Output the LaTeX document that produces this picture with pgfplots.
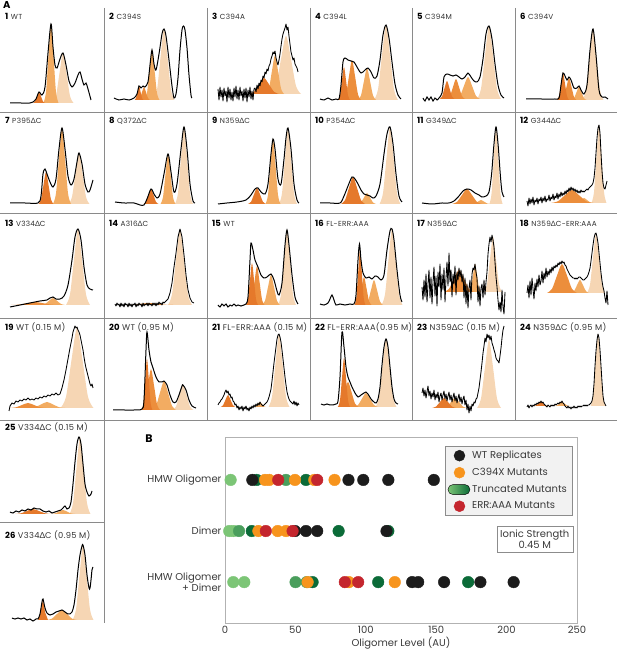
\documentclass[border=0pt]{standalone}
\usepackage{pgfplots}
\pgfplotsset{compat=1.18}
\usepackage{fontspec}
\setmainfont{Poppins}
\newfontfamily\labf[LetterSpace=4]{Poppins}
\newfontfamily\gk{Lato}
\newcommand{\DD}{{\gk Δ}}
\definecolor{ca}{HTML}{E5792B}
\definecolor{cb}{HTML}{EC8E3C}
\definecolor{cc}{HTML}{F2AC62}
\definecolor{cd}{HTML}{F6D6B4}
\definecolor{gridc}{HTML}{8A8A8A}
\definecolor{txt}{HTML}{3A3A3A}
\definecolor{lab}{HTML}{333333}
\definecolor{wtc}{HTML}{1C1C1C}
\definecolor{cxc}{HTML}{F7941D}
\definecolor{errc}{HTML}{C4262E}
\definecolor{gl}{HTML}{7CC576}
\definecolor{gm}{HTML}{4A9E5C}
\definecolor{gd}{HTML}{0B6B38}
\pgfplotsset{
 pan/.style n args={5}{scale only axis, width=103pt, height=#3pt, xmin=0, xmax=103, ymin=#4, ymax=#5, hide axis, clip=false, at={(#1pt,#2pt)}, anchor=south west},
}
\tikzset{pk/.style={draw=none, fill=#1, smooth},
 tr/.style={black, line width=1pt, smooth, tension=0.5},
 trn/.style={black, line width=0.85pt, line join=round}}
\newcommand{\lab}[4]{\node[anchor=base west, inner sep=0pt] at (#1pt,#2pt) {{\fontsize{8.5}{10}\selectfont\bfseries #3}\hspace{2.5pt}{\labf\fontsize{7.3}{8}\selectfont\color{lab}#4}};}
\newcommand{\labb}[4]{\node[anchor=base west, inner sep=0pt] at (#1pt,#2pt) {{\fontsize{8.5}{10}\selectfont\bfseries #3}\hspace{2.5pt}{\labf\fontsize{8.3}{9}\selectfont\color{lab}#4}};}
\newcommand{\bfont}{\fontsize{10}{11.5}\selectfont}
\begin{document}
\begin{tikzpicture}[x=1pt,y=1pt]
\useasboundingbox (0,0) rectangle (617,650);
% ---------- Row 1 ----------
\begin{axis}[pan={0}{538}{112}{-9}{103}]
\addplot[pk=cd] coordinates {(52.5,0)(56,7)(59.5,30)(63,50)(66.5,30)(70,7)(73.5,0)};
\addplot[pk=cc] coordinates {(43.5,0)(46,11)(48.5,47)(51,79)(53.5,47)(56,11)(58.5,0)};
\addplot[pk=ca] coordinates {(33,0)(35,1.5)(37,6.6)(39,11)(41,6.6)(43,1.5)(45,0)};
\addplot[tr] coordinates {(10,0)(20,0)(30,0)(33,1)(36,4)(39,11)(42,8)(45,16)(48,50)(51,79)(53,56)(55,38)(57,35)(60,44)(63,50)(66,38)(69,22)(72,16)(75,20)(78,28)(80,31)(82,24)(84,18)(86,20)(88,14)(91,3)};
\end{axis}
\begin{axis}[pan={104}{538}{112}{-12}{100}]
\addplot[pk=cd] coordinates {(49.5,0)(53,10)(56.5,42.6)(60,71)(63.5,42.6)(67,10)(70.5,0)};
\addplot[pk=cc] coordinates {(40.5,0)(43,7)(45.5,30)(48,50)(50.5,30)(53,7)(55.5,0)};
\addplot[pk=cb] coordinates {(34,0)(36,1.8)(38,7.8)(40,13)(42,7.8)(44,1.8)(46,0)};
\addplot[pk=ca] coordinates {(30.5,0)(32,2)(33.5,8.4)(35,14)(36.5,8.4)(38,2)(39.5,0)};
\addplot[tr] coordinates {(10,2)(15,0)(20,1)(25,0)(30,2)(33,6)(35,14)(37,12)(39,14)(41,13)(44,18)(46,35)(48,50)(50,36)(52,30)(55,46)(58,66)(60,71)(62,64)(65,40)(68,14)(70,2)(72,6)(74,22)(76,50)(78,70)(79.5,74)(81,70)(83,52)(85,25)(87,5)(88,2)};
\end{axis}
\begin{axis}[pan={207}{538}{112}{-18}{94}]
\addplot[pk=cd] coordinates {(64,0)(69,8)(74,35)(79,58)(84,35)(89,8)(94,0)};
\addplot[pk=cc] coordinates {(59,0)(62,5.5)(65,23.4)(68,39)(71,23.4)(74,5.5)(77,0)};
\addplot[pk=ca] coordinates {(42,0)(47,2.2)(52,9.6)(57,16)(62,9.6)(67,2.2)(72,0)};
\addplot[trn] coordinates {(11,5)(12,-6)(13,7)(14,-3)(15,4)(16,-7)(17,6)(18,-2)(19,3)(20,-8)(21,7)(22,-4)(23,5)(24,-6)(25,2)(26,-7)(27,6)(28,-3)(29,8)(30,-5)(31,4)(32,-6)(33,7)(34,-2)(35,3)(36,-7)(37,5)(38,-4)(39,6)(40,-8)(41,4)(42,-3)(43,7)(44,-5)(45,3)(46,-6)(47,5)(48,6)(49,2)(50,9)(51,5)(52,11)(53,8)(54,14)(55,12)(56,18)(57,16)(58,22)(59,20)(60,25)(61,23)(62,28)(63,30)(64,35)(65,38)(66,42)(67,40)(68,43)(69,36)(70,32)(71,29)(72,34)(73,40)(74,48)(75,55)(76,60)(77,63)(78,66)(79,70)(80,64)(81,67)(82,58)(83,50)(84,42)(85,38)(86,34)(87,36)(88,30)(89,28)(90,26)(91,22)};
\end{axis}
\begin{axis}[pan={310}{538}{112}{-12}{100}]
\addplot[pk=cd] coordinates {(64,0)(68,10.5)(72,45)(76,75)(80,45)(84,10.5)(88,0)};
\addplot[pk=cc] coordinates {(48,0)(51,4.5)(54,19.2)(57,32)(60,19.2)(63,4.5)(66,0)};
\addplot[pk=cb] coordinates {(33,0)(36,5.6)(39,24)(42,40)(45,24)(48,5.6)(51,0)};
\addplot[pk=ca] coordinates {(28,0)(30,4.6)(32,19.8)(34,33)(36,19.8)(38,4.6)(40,0)};
\addplot[tr] coordinates {(10,1)(14,0)(18,2)(22,0)(26,1)(29,1)(31,15)(33,38)(35,42)(38,40)(41,39)(44,38)(47,33)(51,27)(55,30)(58,32)(61,28)(64,22)(67,24)(70,40)(73,65)(76,75)(79,62)(82,38)(85,16)(88,5)(91,1)};
\end{axis}
\begin{axis}[pan={412}{538}{112}{-13}{99}]
\addplot[pk=cd] coordinates {(65,0)(69,10.2)(73,43.8)(77,73)(81,43.8)(85,10.2)(89,0)};
\addplot[pk=cc] coordinates {(44,0)(48,3)(52,13.2)(56,22)(60,13.2)(64,3)(68,0)};
\addplot[pk=cb] coordinates {(35,0)(38,2.8)(41,12)(44,20)(47,12)(50,2.8)(53,0)};
\addplot[pk=ca] coordinates {(27.5,0)(30,2.5)(32.5,10.8)(35,18)(37.5,10.8)(40,2.5)(42.5,0)};
\addplot[tr] coordinates {(11,1)(13,-2)(15,2)(17,-1)(19,2)(21,-2)(23,1)(25,-1)(27,1)(30,6)(32,22)(35,25)(38,24)(41,23)(44,24)(47,22)(50,20)(53,22)(56,26)(59,22)(62,18)(65,17)(68,22)(71,40)(74,65)(77,73)(80,60)(83,35)(86,14)(89,4)(92,1)};
\end{axis}
\begin{axis}[pan={515}{538}{112}{-12}{100}]
\addplot[pk=cd] coordinates {(67.5,0)(71,10)(74.5,42.6)(78,71)(81.5,42.6)(85,10)(88.5,0)};
\addplot[pk=cc] coordinates {(56.5,0)(59,1.8)(61.5,7.8)(64,13)(66.5,7.8)(69,1.8)(71.5,0)};
\addplot[pk=cb] coordinates {(46.5,0)(49,3)(51.5,13.2)(54,22)(56.5,13.2)(59,3)(61.5,0)};
\addplot[pk=ca] coordinates {(42,0)(44,3.8)(46,16.2)(48,27)(50,16.2)(52,3.8)(54,0)};
\addplot[tr] coordinates {(11,1)(25,1)(40,1)(44,2)(46,15)(48,27)(50,24)(52,20)(54,23)(56,20)(59,12)(62,12)(64,14)(66,10)(69,6)(72,15)(75,50)(78,71)(81,45)(84,10)(87,3)(90,3)(93,1)};
\end{axis}
% ---------- Row 2 ----------
\begin{axis}[pan={0}{437}{101}{-9}{92}]
\addplot[pk=cd] coordinates {(68.5,0)(72,7.1)(75.5,30.6)(79,51)(82.5,30.6)(86,7.1)(89.5,0)};
\addplot[pk=cc] coordinates {(53,0)(56,10.6)(59,45.6)(62,76)(65,45.6)(68,10.6)(71,0)};
\addplot[pk=ca] coordinates {(38.5,0)(41,4.5)(43.5,19.2)(46,32)(48.5,19.2)(51,4.5)(53.5,0)};
\addplot[tr] coordinates {(10,1)(25,1)(38,1)(41,8)(43,30)(45,35)(47,30)(50,22)(53,17)(56,25)(59,55)(62,76)(65,55)(68,28)(71,19)(74,25)(77,42)(79,51)(82,40)(85,20)(88,12)(90,14)(93,24)};
\end{axis}
\begin{axis}[pan={104}{437}{101}{-9}{92}]
\addplot[pk=cd] coordinates {(71,0)(74,10.8)(77,46.2)(80,77)(83,46.2)(86,10.8)(89,0)};
\addplot[pk=cc] coordinates {(56.5,0)(59,7)(61.5,30)(64,50)(66.5,30)(69,7)(71.5,0)};
\addplot[pk=ca] coordinates {(39.5,0)(42,2.1)(44.5,9)(47,15)(49.5,9)(52,2.1)(54.5,0)};
\addplot[tr] coordinates {(11,2)(20,1)(30,1)(36,-1)(40,-1)(43,5)(47,15)(50,10)(53,6)(56,10)(60,30)(64,50)(67,32)(70,12)(73,20)(77,55)(80,77)(83,55)(86,20)(89,3)(91,1)};
\end{axis}
\begin{axis}[pan={207}{437}{101}{-9}{92}]
\addplot[pk=cd] coordinates {(72,0)(75,10.6)(78,45.6)(81,76)(84,45.6)(87,10.6)(90,0)};
\addplot[pk=cc] coordinates {(58.5,0)(61,9.1)(63.5,39)(66,65)(68.5,39)(71,9.1)(73.5,0)};
\addplot[pk=ca] coordinates {(41,0)(44,2.2)(47,9.6)(50,16)(53,9.6)(56,2.2)(59,0)};
\addplot[tr] coordinates {(11,0)(20,1)(30,2)(39,4)(44,9)(48,15)(51,16)(54,12)(58,10)(61,20)(64,50)(66,65)(68,55)(71,25)(74,20)(77,45)(79,66)(81,76)(84,55)(87,20)(90,4)(92,1)};
\end{axis}
\begin{axis}[pan={310}{437}{101}{-9}{92}]
\addplot[pk=cd] coordinates {(69.5,0)(73,10.8)(76.5,46.2)(80,77)(83.5,46.2)(87,10.8)(90.5,0)};
\addplot[pk=cc] coordinates {(48,0)(51,1.5)(54,6.6)(57,11)(60,6.6)(63,1.5)(66,0)};
\addplot[pk=ca] coordinates {(31,0)(35,3.8)(39,16.2)(43,27)(47,16.2)(51,3.8)(55,0)};
\addplot[tr] coordinates {(10,1)(20,1)(30,1)(34,8)(38,18)(42,27)(45,25)(48,20)(51,14)(54,10)(57,9)(60,8)(63,6)(66,8)(70,20)(74,50)(77,70)(80,77)(83,60)(86,30)(89,8)(92,2)};
\end{axis}
\begin{axis}[pan={412}{437}{101}{-9}{92}]
\addplot[pk=cd] coordinates {(77.4,0)(79.6,10.8)(81.8,46.2)(84,77)(86.2,46.2)(88.4,10.8)(90.6,0)};
\addplot[pk=cc] coordinates {(60,0)(63,0.6)(66,2.4)(69,4)(72,2.4)(75,0.6)(78,0)};
\addplot[pk=cb] coordinates {(40,0)(45,2.1)(50,9)(55,15)(60,9)(65,2.1)(70,0)};
\addplot[tr] coordinates {(10,1)(20,0)(30,1)(37,1)(42,3)(47,8)(51,13)(55,15)(59,14)(63,11)(67,9)(70,7)(74,8)(77,12)(79.6,30)(81.8,58)(84,77)(86.2,58)(88.4,28)(90,12)(92,7)};
\end{axis}
\begin{axis}[pan={515}{437}{101}{-10}{91}]
\addplot[pk=cd] coordinates {(76.5,0)(79,10.9)(81.5,46.8)(84,78)(86.5,46.8)(89,10.9)(91.5,0)};
\addplot[pk=cc] coordinates {(60,0)(63,0.7)(66,3)(69,5)(72,3)(75,0.7)(78,0)};
\addplot[pk=cb] coordinates {(36,0)(43,1.8)(50,7.8)(57,13)(64,7.8)(71,1.8)(78,0)};
\addplot[trn] coordinates {(12,2)(13,-3)(14,5)(15,-1)(16,4)(17,0)(18,6)(19,-2)(20,3)(21,1)(22,5)(23,-1)(24,4)(25,2)(26,6)(27,0)(28,5)(29,2)(30,7)(31,1)(32,4)(33,3)(34,8)(35,2)(36,6)(37,4)(38,9)(39,3)(40,7)(41,5)(42,10)(43,4)(44,9)(45,6)(46,11)(47,7)(48,10)(49,8)(50,12)(51,9)(52,13)(53,11)(54,15)(55,12)(56,16)(57,13)(58,15)(59,12)(60,14)(61,11)(62,13)(63,10)(64,12)(65,10)(66,13)(67,11)(68,12)(69,11)(70,12)(71,13)(72,14)(73,13)(74,15)(75,16)(76,17)(77,18)(78,20)(79,25)(80,35)(81,50)(82,65)(83,75)(84,78)(85,70)(86,50)(87,32)(88,20)(89,15)(90,14)(91,18)(92,22)};
\end{axis}
% ---------- Row 3 ----------
\begin{axis}[pan={0}{332}{105}{-13}{92}]
\addplot[pk=cd] coordinates {(66,0)(70,10.6)(74,45.6)(78,76)(82,45.6)(86,10.6)(90,0)};
\addplot[pk=cc] coordinates {(41,0)(45,1)(49,4.2)(53,7)(57,4.2)(61,1)(65,0)};
\addplot[pk=cb] coordinates {(11,0)(19,0.4)(27,1.8)(35,3)(43,1.8)(51,0.4)(59,0)};
\addplot[tr] coordinates {(10,-2)(20,0)(30,2)(40,4)(47,5)(50,7)(53,8)(56,6)(60,6)(64,9)(68,20)(72,45)(75,68)(78,76)(81,65)(84,38)(87,20)(90,16)(93,15)};
\end{axis}
\begin{axis}[pan={104}{332}{105}{-13}{92}]
\addplot[pk=cd] coordinates {(64,0)(68,10.5)(72,45)(76,75)(80,45)(84,10.5)(88,0)};
\addplot[pk=cb] coordinates {(21,0)(29,0.3)(37,1.2)(45,2)(53,1.2)(61,0.3)(69,0)};
\addplot[trn] coordinates {(11,1)(12,-1)(13,2)(14,0)(15,1)(16,-2)(17,2)(18,-1)(19,1)(20,-2)(21,2)(22,0)(23,1)(24,-2)(25,2)(26,-1)(27,1)(28,-2)(29,1)(30,0)(31,2)(32,-2)(33,1)(34,-1)(35,2)(36,0)(37,1)(38,-2)(39,2)(40,-1)(41,1)(42,0)(43,2)(44,-1)(45,2)(46,0)(47,1)(48,-1)(49,2)(50,0)(51,2)(52,-1)(53,2)(54,0)(55,3)(56,1)(57,2)(58,0)(59,3)(60,2)(61,3)(62,4)(64,6)(66,12)(68,22)(70,38)(72,52)(74,68)(76,76)(78,68)(80,50)(82,30)(84,15)(86,7)(88,3)(90,2)};
\end{axis}
\begin{axis}[pan={207}{332}{105}{-13}{92}]
\addplot[pk=cd] coordinates {(71,0)(74,10.5)(77,45)(80,75)(83,45)(86,10.5)(89,0)};
\addplot[pk=cc] coordinates {(55,0)(58,4.2)(61,18)(64,30)(67,18)(70,4.2)(73,0)};
\addplot[pk=cb] coordinates {(42.5,0)(45,5.5)(47.5,23.4)(50,39)(52.5,23.4)(55,5.5)(57.5,0)};
\addplot[pk=ca] coordinates {(39,0)(41,5.9)(43,25.2)(45,42)(47,25.2)(49,5.9)(51,0)};
\addplot[tr] coordinates {(11,0)(13,-2)(15,1)(17,-1)(19,1)(21,-2)(23,0)(25,-1)(27,1)(29,-1)(31,0)(34,-1)(37,0)(39,1)(41,8)(43,45)(44,62)(46,55)(48,45)(51,38)(54,30)(57,27)(60,28)(64,31)(67,25)(70,14)(72,10)(75,22)(78,60)(80,75)(82,60)(85,30)(88,8)(91,1)};
\end{axis}
\begin{axis}[pan={310}{332}{105}{-13}{92}]
\addplot[pk=cd] coordinates {(71.5,0)(75,10.6)(78.5,45.6)(82,76)(85.5,45.6)(89,10.6)(92.5,0)};
\addplot[pk=cc] coordinates {(55,0)(58,3.5)(61,15)(64,25)(67,15)(70,3.5)(73,0)};
\addplot[pk=cb] coordinates {(46.5,0)(49,3.9)(51.5,16.8)(54,28)(56.5,16.8)(59,3.9)(61.5,0)};
\addplot[pk=ca] coordinates {(44.6,0)(46.4,7.7)(48.2,33)(50,55)(51.8,33)(53.6,7.7)(55.4,0)};
\addplot[tr] coordinates {(10,1)(14,0)(18,2)(20,6)(22,10)(24,5)(26,0)(30,1)(35,0)(40,1)(44,1)(46,10)(48,45)(49.5,61)(51,45)(53,32)(56,27)(59,28)(62,26)(65,29)(68,28)(71,25)(74,30)(77,55)(80,74)(82,76)(84,65)(87,35)(90,10)(92,3)};
\end{axis}
\begin{axis}[pan={412}{332}{105}{-26}{79}]
\addplot[pk=cd] coordinates {(72,0)(75,7.7)(78,33)(81,55)(84,33)(87,7.7)(90,0)};
\addplot[pk=cc] coordinates {(57,0)(59,3.9)(61,16.8)(63,28)(65,16.8)(67,3.9)(69,0)};
\addplot[pk=cb] coordinates {(32,0)(37,3.1)(42,13.2)(47,22)(52,13.2)(57,3.1)(62,0)};
\addplot[trn] coordinates {(10,5)(11,-8)(12,12)(13,-5)(14,18)(15,-10)(16,8)(17,22)(18,-6)(19,15)(20,-12)(21,10)(22,25)(23,-4)(24,16)(25,-14)(26,20)(27,5)(28,28)(29,-8)(30,18)(31,2)(32,24)(33,-10)(34,14)(35,30)(36,6)(37,39)(38,10)(39,22)(40,-5)(41,18)(42,8)(43,26)(44,-3)(45,20)(46,12)(47,24)(48,15)(49,22)(50,10)(51,18)(52,-6)(53,14)(54,-12)(55,8)(56,-16)(57,4)(58,12)(59,-8)(60,18)(61,24)(62,22)(63,28)(64,20)(65,14)(66,-10)(67,6)(68,-14)(69,4)(70,8)(71,-6)(72,12)(73,-3)(74,10)(75,20)(76,38)(77,48)(78,55)(79,50)(80,57)(81,52)(82,45)(83,30)(84,15)(85,5)(86,-8)(87,-18)(88,-10)(89,-20)(90,2)(91,-15)(92,-22)(93,0)};
\end{axis}
\begin{axis}[pan={515}{332}{105}{-25}{80}]
\addplot[pk=cd] coordinates {(72,0)(75,8.3)(78,35.4)(81,59)(84,35.4)(87,8.3)(90,0)};
\addplot[pk=cc] coordinates {(56,0)(59,1.8)(62,7.8)(65,13)(68,7.8)(71,1.8)(74,0)};
\addplot[pk=cb] coordinates {(32,0)(37,4.1)(42,17.4)(47,29)(52,17.4)(57,4.1)(62,0)};
\addplot[trn] coordinates {(12,0)(13,8)(14,-5)(15,12)(16,-2)(17,15)(18,4)(19,-6)(20,10)(21,2)(22,14)(23,6)(24,18)(25,8)(26,12)(27,22)(28,10)(29,20)(30,14)(31,25)(32,16)(33,22)(34,18)(35,24)(36,20)(37,26)(38,22)(39,27)(40,25)(41,28)(42,26)(43,30)(44,28)(45,31)(46,29)(47,32)(48,30)(49,31)(50,28)(51,27)(52,24)(53,22)(54,20)(55,18)(56,17)(57,16)(58,15)(59,15)(60,14)(61,15)(62,14)(63,15)(64,16)(65,16)(66,15)(67,14)(68,13)(69,13)(70,14)(71,15)(72,16)(73,18)(74,21)(75,25)(76,32)(77,40)(78,48)(79,55)(80,59)(81,60)(82,56)(83,50)(84,40)(85,30)(86,20)(87,12)(88,6)(89,2)(90,-5)(91,-10)(92,2)(93,-12)};
\end{axis}
% ---------- Row 4 ----------
\begin{axis}[pan={0}{230}{102}{-12}{90}]
\addplot[pk=cd] coordinates {(60.5,0)(66,11.2)(71.5,48)(77,80)(82.5,48)(88,11.2)(93.5,0)};
\addplot[pk=cc] coordinates {(29,0)(35,0.8)(41,3.6)(47,6)(53,3.6)(59,0.8)(65,0)};
\addplot[pk=cb] coordinates {(10,0)(16,0.7)(22,3)(28,5)(34,3)(40,0.7)(46,0)};
\addplot[trn] coordinates {(9,-3)(10,2)(12,5)(14,4)(16,7)(18,6)(20,8)(22,7)(24,9)(26,8)(28,10)(30,8)(32,9)(34,8)(36,10)(38,9)(40,11)(42,10)(44,12)(46,11)(48,13)(50,12)(52,14)(54,13)(56,15)(58,13)(60,14)(62,20)(64,28)(66,38)(68,49)(70,60)(72,70)(73,76)(74,79)(75,82)(76,80)(77,81)(78,78)(79,76)(80,73)(81,68)(82,63)(83,58)(84,51)(85,45)(86,40)(87,36)(88,32)(89,28)(90,24)(91,22)(92,24)(93,20)};
\end{axis}
\begin{axis}[pan={104}{230}{102}{-10}{92}]
\addplot[pk=cd] coordinates {(68.5,0)(72,3.5)(75.5,15)(79,25)(82.5,15)(86,3.5)(89.5,0)};
\addplot[pk=cc] coordinates {(48,0)(52,4.1)(56,17.4)(60,29)(64,17.4)(68,4.1)(72,0)};
\addplot[pk=cb] coordinates {(38,0)(41,5.7)(44,24.6)(47,41)(50,24.6)(53,5.7)(56,0)};
\addplot[pk=ca] coordinates {(37.6,0)(39.4,7.1)(41.2,30.6)(43,51)(44.8,30.6)(46.6,7.1)(48.4,0)};
\addplot[tr] coordinates {(9,0)(20,0)(30,0)(38,1)(40,10)(42,60)(43,78)(45,60)(47,48)(49,42)(52,33)(55,28)(58,28)(60,29)(63,25)(66,15)(69,8)(72,8)(75,15)(78,24)(79,25)(82,20)(85,10)(88,4)(92,2)};
\end{axis}
\begin{axis}[pan={207}{230}{102}{-13}{89}]
\addplot[pk=cd] coordinates {(61.5,0)(65,10.2)(68.5,43.8)(72,73)(75.5,43.8)(79,10.2)(82.5,0)};
\addplot[pk=cc] coordinates {(47,0)(49,0.7)(51,3)(53,5)(55,3)(57,0.7)(59,0)};
\addplot[pk=ca] coordinates {(13.5,0)(16,1.7)(18.5,7.2)(21,12)(23.5,7.2)(26,1.7)(28.5,0)};
\addplot[trn] coordinates {(11,2)(12,4)(13,5)(14,7)(15,8)(16,10)(17,12)(18,15)(19,17)(20,14)(21,16)(22,12)(23,13)(24,9)(25,10)(26,6)(27,5)(28,2)(29,3)(30,-1)(31,1)(32,-3)(33,0)(34,-2)(35,1)(36,-4)(37,0)(38,-2)(39,1)(40,-3)(41,-1)(42,-4)(43,0)(44,-2)(45,1)(46,-1)(47,2)(48,0)(49,3)(50,1)(51,4)(52,2)(53,5)(54,3)(55,2)(56,1)(57,2)(58,3)(59,4)(60,5)(61,7)(62,10)(63,14)(64,18)(65,26)(66,35)(67,44)(68,52)(69,60)(70,68)(71,72)(72,73)(73,70)(74,65)(75,57)(76,48)(77,39)(78,30)(79,22)(80,15)(81,11)(82,8)(83,6)(84,5)(85,4)(86,3)(87,6)(88,2)(89,5)(90,1)(91,4)(92,2)};
\end{axis}
\begin{axis}[pan={310}{230}{102}{-13}{89}]
\addplot[pk=cd] coordinates {(65.5,0)(69,9.5)(72.5,40.8)(76,68)(79.5,40.8)(83,9.5)(86.5,0)};
\addplot[pk=cc] coordinates {(44,0)(48,2)(52,8.4)(56,14)(60,8.4)(64,2)(68,0)};
\addplot[pk=cb] coordinates {(27.5,0)(31,3.5)(34.5,15)(38,25)(41.5,15)(45,3.5)(48.5,0)};
\addplot[pk=ca] coordinates {(28,0)(30,6.9)(32,29.4)(34,49)(36,29.4)(38,6.9)(40,0)};
\addplot[tr] coordinates {(11,3)(14,2)(17,3)(20,2)(23,2)(26,3)(28,6)(30,30)(32,75)(34,60)(36,40)(38,30)(40,25)(42,20)(45,14)(48,10)(51,12)(54,14)(56,15)(58,13)(61,8)(64,5)(66,4)(68,8)(70,20)(72,42)(74,60)(76,68)(78,60)(80,40)(82,20)(84,8)(86,4)(88,3)};
\end{axis}
\begin{axis}[pan={412}{230}{102}{-12}{90}]
\addplot[pk=cd] coordinates {(65,0)(69,9.5)(73,40.8)(77,68)(81,40.8)(85,9.5)(89,0)};
\addplot[pk=cc] coordinates {(31,0)(35,1.4)(39,6)(43,10)(47,6)(51,1.4)(55,0)};
\addplot[pk=ca] coordinates {(20,0)(24,1.4)(28,6)(32,10)(36,6)(40,1.4)(44,0)};
\addplot[trn] coordinates {(10,15)(11,20)(12,12)(13,18)(14,10)(15,16)(16,22)(17,12)(18,17)(19,9)(20,15)(21,11)(22,18)(23,8)(24,14)(25,10)(26,16)(27,6)(28,12)(29,15)(30,8)(31,13)(32,17)(33,9)(34,14)(35,7)(36,12)(37,16)(38,8)(39,13)(40,6)(41,11)(42,15)(43,7)(44,12)(45,5)(46,10)(47,14)(48,6)(49,11)(50,4)(51,9)(52,12)(53,3)(54,8)(55,-2)(56,4)(57,-5)(58,2)(59,-3)(60,4)(61,2)(62,6)(63,5)(64,9)(65,10)(66,15)(67,20)(68,28)(69,36)(70,45)(71,55)(72,62)(73,70)(74,66)(75,74)(76,70)(77,73)(78,68)(79,72)(80,65)(81,62)(82,58)(83,55)(84,50)(85,48)(86,47)(87,45)(88,52)(89,60)(90,70)(91,78)(92,82)};
\end{axis}
\begin{axis}[pan={515}{230}{102}{-14}{88}]
\addplot[pk=cd] coordinates {(75.5,0)(78,10)(80.5,43.2)(83,72)(85.5,43.2)(88,10)(90.5,0)};
\addplot[pk=cc] coordinates {(39.5,0)(42,0.6)(44.5,2.4)(47,4)(49.5,2.4)(52,0.6)(54.5,0)};
\addplot[pk=ca] coordinates {(18.5,0)(21,0.6)(23.5,2.4)(26,4)(28.5,2.4)(31,0.6)(33.5,0)};
\addplot[trn] coordinates {(12,-1)(13,1)(14,-2)(15,0)(16,1)(17,-1)(18,1)(19,0)(20,2)(21,1)(22,3)(23,2)(24,4)(25,3)(26,5)(27,3)(28,4)(29,2)(30,1)(31,0)(32,-1)(33,1)(34,0)(35,-1)(36,1)(37,0)(38,1)(39,0)(40,2)(41,1)(42,2)(43,3)(44,2)(45,4)(46,3)(47,5)(48,3)(49,2)(50,0)(51,-1)(52,-2)(53,0)(54,-2)(55,-1)(56,-3)(57,-1)(58,-2)(59,0)(60,-2)(61,-1)(62,-2)(63,0)(64,-1)(65,0)(66,-1)(67,0)(68,0)(69,1)(70,0)(71,1)(72,0)(73,1)(74,1)(75,2)(76,3)(77,5)(78,10)(79,22)(80,40)(81,55)(82,66)(83,72)(84,68)(85,56)(86,40)(87,24)(88,10)(89,4)(90,2)(91,0)};
\end{axis}
% ---------- Rows 5, 6 ----------
\begin{axis}[pan={0}{128}{102}{-8}{94}]
\addplot[pk=cd] coordinates {(69.5,0)(73,10.8)(76.5,46.2)(80,77)(83.5,46.2)(87,10.8)(90.5,0)};
\addplot[pk=cc] coordinates {(51,0)(55,0.6)(59,2.4)(63,4)(67,2.4)(71,0.6)(75,0)};
\addplot[pk=ca] coordinates {(15,0)(21,0.7)(27,3)(33,5)(39,3)(45,0.7)(51,0)};
\addplot[tr] coordinates {(10,2)(13,1)(16,3)(19,2)(22,4)(25,3)(28,5)(31,4)(34,6)(37,5)(40,5)(43,3)(46,2)(49,3)(52,1)(55,2)(58,3)(61,4)(63,6)(65,8)(67,5)(69,6)(71,12)(73,30)(75,52)(77,70)(79,77)(81,70)(83,50)(85,30)(87,22)(89,18)(91,20)(92,23)};
\end{axis}
\begin{axis}[pan={0}{27}{101}{-3}{98}]
\addplot[pk=cd] coordinates {(72.5,0)(76,10.5)(79.5,45)(83,75)(86.5,45)(90,10.5)(93.5,0)};
\addplot[pk=cc] coordinates {(47,0)(52,1.4)(57,6)(62,10)(67,6)(72,1.4)(77,0)};
\addplot[draw=none, fill=ca] coordinates {(38,0)(40,5)(43,21)(45,8)(48,0)};
\addplot[tr] coordinates {(12,2)(15,1)(18,2)(21,1)(24,2)(27,0)(30,1)(33,-1)(36,1)(38,1)(40,6)(42,18)(43,21)(45,12)(47,7)(50,5)(53,6)(56,8)(59,9)(62,10)(65,8)(68,6)(70,6)(72,8)(74,15)(76,30)(78,50)(80,65)(82,74)(83,75)(85,65)(87,45)(89,32)(90,32)(91,40)(92,50)(93,53)};
\end{axis}
% ---------- grid lines ----------
\draw[gridc, line width=0.9pt] (104,642) -- (104,27);
\foreach \x in {207,310,412,515} \draw[gridc, line width=0.9pt] (\x,642) -- (\x,230);
\foreach \y in {538,437,332,230} \draw[gridc, line width=0.9pt] (0,\y) -- (617,\y);
\draw[gridc, line width=0.9pt] (0,128) -- (104,128);
% ---------- panel labels ----------
\node[anchor=north west, inner sep=0pt, font=\bfseries\fontsize{10}{10}\selectfont] at (3,649) {A};
\lab{5}{630}{1}{WT}
\lab{109}{630}{2}{C394S}
\lab{212}{630}{3}{C394A}
\lab{315}{630}{4}{C394L}
\lab{417}{630}{5}{C394M}
\lab{520}{630}{6}{C394V}
\lab{5}{526}{7}{P395\DD C}
\lab{109}{526}{8}{Q372\DD C}
\lab{212}{526}{9}{N359\DD C}
\lab{315}{526}{10}{P354\DD C}
\lab{417}{526}{11}{G349\DD C}
\lab{520}{526}{12}{G344\DD C}
\lab{5}{423}{13}{V334\DD C}
\lab{109}{423}{14}{A316\DD C}
\lab{212}{423}{15}{WT}
\lab{315}{423}{16}{FL-ERR:AAA}
\lab{417}{423}{17}{N359\DD C}
\lab{520}{423}{18}{N359\DD C-ERR:AAA}
\labb{5}{319}{19}{WT (0.15 M)}
\labb{109}{319}{20}{WT (0.95 M)}
\labb{212}{319}{21}{FL-ERR:AAA (0.15 M)}
\labb{315}{319}{22}{FL-ERR:AAA(0.95 M)}
\labb{417}{319}{23}{N359\DD C (0.15 M)}
\labb{520}{319}{24}{N359\DD C (0.95 M)}
\labb{5}{219}{25}{V334\DD C (0.15 M)}
\labb{5}{111}{26}{V334\DD C (0.95 M)}
% ---------- Panel B ----------
\node[font=\bfseries\fontsize{11}{11}\selectfont] at (149,211) {B};
\begin{axis}[at={(225pt,27pt)}, anchor=south west, scale only axis, width=352pt, height=186pt,
 xmin=0, xmax=250, ymin=0.2, ymax=3.84,
 xtick={0,50,100,150,200,250}, ytick={1,2,3},
 yticklabels={{HMW Oligomer\\+ Dimer},{Dimer},{HMW Oligomer}},
 major tick length=0pt,
 axis line style={draw=black!30},
 tick label style={font=\bfont, text=txt},
 yticklabel style={align=right},
 /pgf/number format/assume math mode=true,
 xlabel={Oligomer Level (AU)},
 xlabel style={font=\bfont, text=txt, yshift=4pt},
 legend style={at={(0.986,0.952)}, anchor=north east, fill=black!5, draw=black!45,
   font=\bfont, text=txt, row sep=4pt, inner sep=3pt,
   /tikz/every even column/.append style={column sep=1pt}},
 legend cell align=left, clip=false]
\addlegendimage{only marks, mark=*, mark size=5.5pt, color=wtc}
\addlegendentry{WT Replicates}
\addlegendimage{only marks, mark=*, mark size=5.5pt, color=cxc}
\addlegendentry{C394X Mutants}
\addlegendimage{legend image code/.code={\shade[left color=gl, right color=gd, rounded corners=5pt] (-3pt,-5pt) rectangle (19pt,5pt);}}
\addlegendentry{Truncated Mutants}
\addlegendimage{only marks, mark=*, mark size=5.5pt, color=errc}
\addlegendentry{ERR:AAA Mutants}
\addplot[forget plot, only marks, mark=*, mark size=5.8pt, color=gl] coordinates {(4,3)(3,2)(6,2)(5.9,1)(13.7,1)};
\addplot[forget plot, only marks, mark=*, mark size=5.8pt, color=gm] coordinates {(43.3,3)(10,2)(50.1,1)(58,1)};
\addplot[forget plot, only marks, mark=*, mark size=5.8pt, color=gd] coordinates {(22.5,3)(57.5,3)(19,2)(80.7,2)(116,2)(62.2,1)(108.8,1)(172.7,1)};
\addplot[forget plot, only marks, mark=*, mark size=5.8pt, color=wtc] coordinates {(19.4,3)(87.7,3)(98.2,3)(116,3)(148.3,3)(49.7,2)(57.5,2)(65.5,2)(114.7,2)(132.9,1)(137.2,1)(155.6,1)(181.4,1)(205,1)};
\addplot[forget plot, only marks, mark=*, mark size=5.8pt, color=cxc] coordinates {(28.4,3)(31.5,3)(49.7,3)(63.4,3)(77.8,3)(23.7,2)(37.4,2)(43.3,2)(58.7,1)(88,1)(120.6,1)};
\addplot[forget plot, only marks, mark=*, mark size=5.8pt, color=errc] coordinates {(37.8,3)(65.5,3)(29,2)(48,2)(85.1,1)(94.6,1)};
\node[draw=black!45, fill=white, align=center, font=\bfont, text=txt, minimum width=76pt, minimum height=26pt, inner sep=2pt] at (axis cs:220,1.84) {Ionic Strength\\0.45 M};
\end{axis}
\end{tikzpicture}
\end{document}
